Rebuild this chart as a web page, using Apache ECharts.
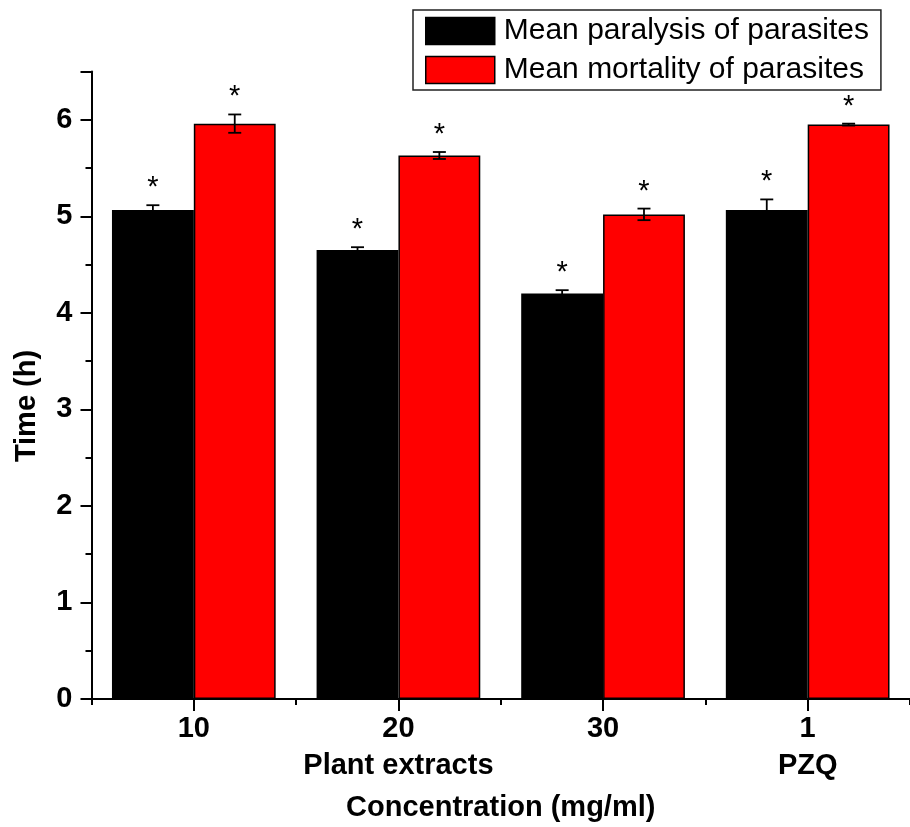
<!DOCTYPE html>
<html>
<head>
<meta charset="utf-8">
<script src="https://cdn.jsdelivr.net/npm/echarts@6/dist/echarts.min.js"></script>
<style>html,body{margin:0;padding:0;background:#fff;}#chart{width:910px;height:827px;}</style>
</head>
<body>
<div id="chart"></div>
<script>
const categories = ['10', '20', '30', '1'];
const groupLabels = ['', 'Plant extracts', '', 'PZQ'];
const paralysis = [5.065, 4.65, 4.20, 5.065];
const paralysisErr = [0.05, 0.03, 0.035, 0.11];
const mortality = [5.96, 5.63, 5.02, 5.95];
const mortalityErr = [0.095, 0.036, 0.06, 0.01];
const yMin = 0, yMax = 6.5, yStep = 1;
const seriesNames = ['Mean paralysis of parasites', 'Mean mortality of parasites'];

const FONT = '"Liberation Sans", Arial, sans-serif';
const chart = echarts.init(document.getElementById('chart'), null, {renderer: 'canvas'});

function errRender(offsetFrac) {
  return function (params, api) {
    const i = api.value(0), v = api.value(1), e = api.value(2);
    const bw = api.size([1, 0])[0];
    const c = api.coord([i, v]);
    const x = c[0] + offsetFrac * bw;
    const hi = api.coord([i, v + e])[1];
    const lo = api.coord([i, v - e])[1];
    const cap = 6.5;
    const ls = {stroke: '#000', lineWidth: 1.8};
    return {
      type: 'group',
      children: [
        {type: 'line', shape: {x1: x, y1: hi, x2: x, y2: lo}, style: ls},
        {type: 'line', shape: {x1: x - cap, y1: hi, x2: x + cap, y2: hi}, style: ls},
        {type: 'line', shape: {x1: x - cap, y1: lo, x2: x + cap, y2: lo}, style: ls},
        {type: 'text', x: x, y: hi - 17, style: {text: '*', fill: '#000', fontSize: 29, fontFamily: FONT, align: 'center', verticalAlign: 'middle'}}
      ]
    };
  };
}

const option = {
  animation: false,
  backgroundColor: '#fff',
  grid: {left: 91.5, right: -9.5, top: 71.5, bottom: 123.7, containLabel: false},
  legend: {
    data: seriesNames,
    icon: 'rect',
    orient: 'vertical',
    left: 413, top: 10,
    width: 474,
    padding: [6, 12, 5, 12],
    itemWidth: 69, itemHeight: 27, itemGap: 9,
    borderColor: '#222', borderWidth: 1.5,
    textStyle: {fontSize: 30, fontFamily: FONT, color: '#000', padding: [0, 0, 0, 4]},
    itemStyle: {borderColor: '#000', borderWidth: 1.5}
  },
  xAxis: [{
    type: 'category',
    data: categories,
    position: 'bottom',
    axisLine: {lineStyle: {color: '#000', width: 2}},
    axisTick: {show: true, alignWithLabel: false, interval: 0, length: 6, lineStyle: {color: '#000', width: 2}},
    axisLabel: {
      interval: 0, margin: 11, color: '#000', fontSize: 29, fontWeight: 'bold', fontFamily: FONT, lineHeight: 37,
      formatter: function (val, idx) { return groupLabels[idx] ? val + '\n' + groupLabels[idx] : val; }
    },
    name: 'Concentration (mg/ml)',
    nameLocation: 'middle',
    nameGap: 94,
    nameTextStyle: {fontSize: 29, fontWeight: 'bold', fontFamily: FONT, color: '#000'}
  }, {
    type: 'category',
    data: categories,
    position: 'bottom',
    axisLine: {show: false},
    axisTick: {show: true, alignWithLabel: true, interval: 0, length: 12, lineStyle: {color: '#000', width: 2}},
    axisLabel: {show: false}
  }],
  yAxis: {
    type: 'value',
    min: yMin, max: yMax, interval: yStep,
    axisLine: {show: true, lineStyle: {color: '#000', width: 2}},
    axisTick: {show: true, length: 11, lineStyle: {color: '#000', width: 2}},
    minorTick: {show: true, splitNumber: 2, length: 6, lineStyle: {color: '#000', width: 2}},
    splitLine: {show: false},
    axisLabel: {margin: 19, color: '#000', fontSize: 29, fontWeight: 'bold', fontFamily: FONT,
      formatter: function (v) { return Number.isInteger(v) ? String(v) : ''; }}
  },
  graphic: [{
    type: 'text',
    x: 27, y: 406,
    rotation: Math.PI / 2,
    style: {text: 'Time (h)', fontSize: 29, fontWeight: 'bold', fontFamily: FONT, fill: '#000', align: 'center', verticalAlign: 'middle'}
  }],
  series: [{
    name: seriesNames[0], type: 'bar', xAxisIndex: 0,
    data: paralysis,
    barGap: '0%', barCategoryGap: '20%',
    itemStyle: {color: '#000', borderColor: '#000', borderWidth: 1.5}
  }, {
    name: seriesNames[1], type: 'bar', xAxisIndex: 0,
    data: mortality,
    barGap: '0%', barCategoryGap: '20%',
    itemStyle: {color: '#ff0000', borderColor: '#000', borderWidth: 1.5}
  }, {
    type: 'custom', xAxisIndex: 0, z: 5,
    renderItem: errRender(-0.2),
    data: paralysis.map(function (v, i) { return [i, v, paralysisErr[i]]; })
  }, {
    type: 'custom', xAxisIndex: 0, z: 5,
    renderItem: errRender(0.2),
    data: mortality.map(function (v, i) { return [i, v, mortalityErr[i]]; })
  }]
};
chart.setOption(option);
</script>
</body>
</html>
